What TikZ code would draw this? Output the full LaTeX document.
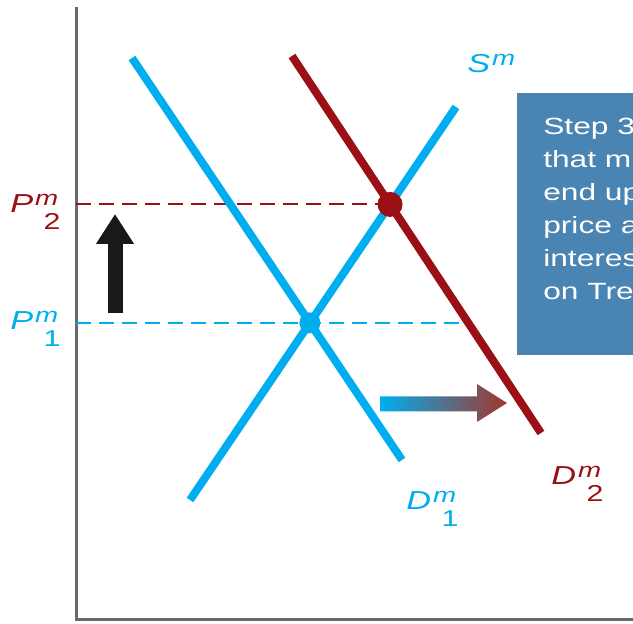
\documentclass[tikz,border=0pt]{standalone}
\usepackage{fontspec}
\setmainfont{Liberation Sans}
\usetikzlibrary{arrows.meta,positioning,calc,intersections}

\definecolor{mblue}{HTML}{00AEEF}
\definecolor{mred}{HTML}{9B1014}
\definecolor{shiftred}{HTML}{A3352B}
\definecolor{boxblue}{HTML}{4A84B2}
\definecolor{axisgray}{HTML}{6A6A6A}

% letter with stacked m and index
\newcommand{\mlab}[2]{\textit{#1}\kern1.5pt%
  \rlap{\raisebox{7pt}{\fontsize{21}{21}\selectfont\textit{m}}}%
  \kern6.5pt\raisebox{-17pt}{\fontsize{23}{23}\selectfont#2}}

\begin{document}
\begin{tikzpicture}[x=1pt,y=1pt,
  curve/.style={line width=8pt},
  level/.style={line width=2pt,dash pattern=on 15pt off 8pt},
  lbl/.style={font=\fontsize{26}{30}\selectfont,inner sep=0pt,anchor=base west,xscale=1.32},
  dot/.style={circle,inner sep=0pt}]
  \useasboundingbox (0,0) rectangle (633,624);

  % axes
  \coordinate (yaxis) at (76,0);
  \draw[axisgray,line width=3pt] (76,617) -- (76,4) -- (633,4);

  % curve end points
  \coordinate (d1a) at (132,566);
  \coordinate (d1b) at (402,164);
  \coordinate (sa)  at (190,124);
  \coordinate (sb)  at (456,517);
  \coordinate (d2a) at (292,568);
  \coordinate (d2b) at (541,191);
  \path[name path=d1] (d1a) -- (d1b);
  \path[name path=s]  (sa) -- (sb);
  \path[name path=d2] (d2a) -- (d2b);
  \path[name intersections={of=d1 and s,by=e1}];
  \path[name intersections={of=d2 and s,by=e2}];
  \path[name path=p1line] (e1 -| yaxis) -- ++(600,0);
  \path[name intersections={of=p1line and d2,by=p1end}];

  % price levels
  \draw[level,mred] (e2 -| yaxis) -- (e2);
  \draw[level,mblue] (e1 -| yaxis) -- (p1end);

  % supply and demand
  \draw[curve,mblue] (d1a) -- (d1b);
  \draw[curve,mblue] (sa) -- (sb);
  \draw[curve,mred] (d2a) -- (d2b);
  \node[dot,fill=mblue,minimum size=21pt] (eq1) at (e1) {};
  \node[dot,fill=mred,minimum size=25pt] (eq2) at (e2) {};

  % labels
  \node[lbl,mblue] (slabel)  at (467,551) {\mlab{S}{}};
  \node[lbl,mred]  (p2label) at (10,411) {\mlab{P}{2}};
  \node[lbl,mblue] (p1label) at (10,294) {\mlab{P}{1}};
  \node[lbl,mblue] (d1label) at (406,114) {\mlab{D}{1}};
  \node[lbl,mred]  (d2label) at (551,139) {\mlab{D}{2}};

  % price rises
  \coordinate (up0) at (115,311);
  \coordinate (up1) at (115,410);
  \draw[line width=15pt,black!90,-{Triangle[width=36pt,length=30pt]}] (up0) -- (up1);

  % demand shifts right
  \shade[left color=mblue,middle color={rgb,255:red,90;green,125;blue,145},right color=shiftred]
    (380,212.5) -- (477,212.5) -- (477,202) -- (507,221) -- (477,240)
    -- (477,227.5) -- (380,227.5) -- cycle;

  % step box
  \fill[boxblue] (517,269) rectangle (660,531);
  \node[anchor=north west,text=white,align=left,inner sep=0pt,xscale=1.35,
        font=\fontsize{23.5}{33}\selectfont] (steptext) at (543,506)
    {Step 3\\that m\\end up\\price a\\interes\\on Tre};
\end{tikzpicture}
\end{document}
